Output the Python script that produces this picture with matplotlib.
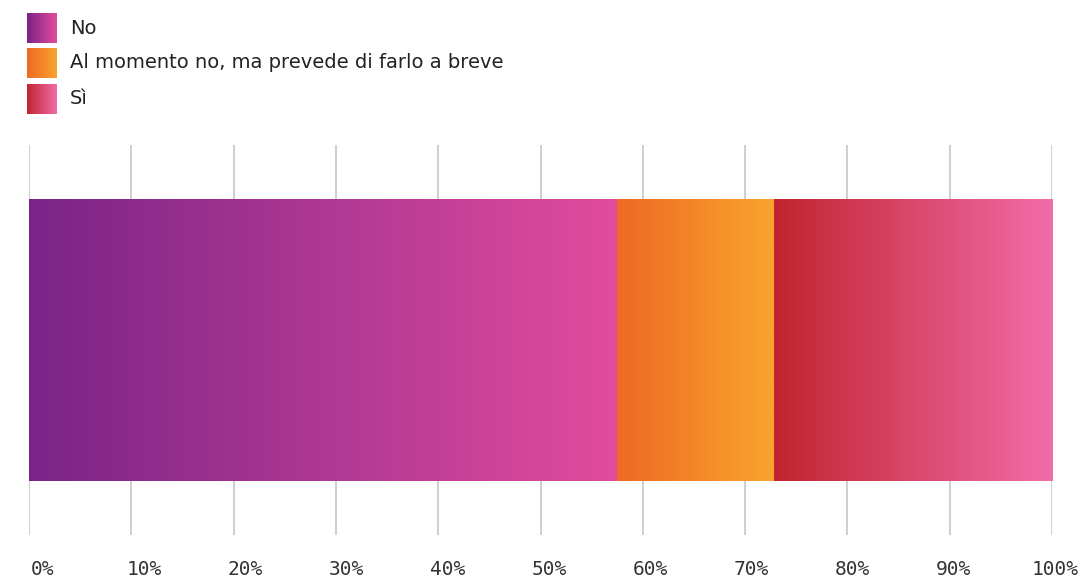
import matplotlib
matplotlib.use("Agg")
import matplotlib.pyplot as plt
import numpy as np
from matplotlib.colors import LinearSegmentedColormap
from matplotlib.transforms import ScaledTranslation

categories = ["No", "Al momento no, ma prevede di farlo a breve", "Sì"]
values = [57.5, 15.3, 27.2]
gradients = [("#7A2488", "#E24C9D"), ("#EE6A24", "#F8A42D"), ("#C1242F", "#F26CA9")]
tick_values = [0, 10, 20, 30, 40, 50, 60, 70, 80, 90, 100]
tick_labels = [f"{v}%" for v in tick_values]

W, H = 1090, 577
fig = plt.figure(figsize=(W / 100, H / 100), dpi=100)
ax = fig.add_axes([29 / W, (H - 535) / H, 1023 / W, 390 / H])
ax.set_xlim(0, 100)
ax.set_ylim(0, 1)

grad = np.linspace(0, 1, 256).reshape(1, -1)
left = 0
bar_h = 0.723
for val, (c0, c1) in zip(values, gradients):
    bars = ax.barh(0.5, val, left=left, height=bar_h, color="none", linewidth=0, zorder=2)
    patch = bars.patches[0]
    cmap = LinearSegmentedColormap.from_list("g", [c0, c1])
    im = ax.imshow(grad, cmap=cmap, aspect="auto",
                   extent=[left, left + val, 0.5 - bar_h / 2, 0.5 + bar_h / 2],
                   zorder=3, interpolation="bilinear")
    im.set_clip_path(patch)
    left += val

ax.set_xticks(tick_values)
ax.set_xticklabels(tick_labels)
ax.set_yticks([])
ax.grid(axis="x", color="#cfcfcf", linewidth=1.4, zorder=0)
ax.set_axisbelow(True)
for s in ax.spines.values():
    s.set_visible(False)
ax.tick_params(axis="x", length=0, pad=18, labelsize=14, labelcolor="#333333")
for v, lab in zip(tick_values, ax.get_xticklabels()):
    lab.set_fontfamily(["DejaVu Sans Mono"])
    lab.set_fontstretch("condensed")
    dx = (14 - 0.11 * v) / 100
    lab.set_transform(lab.get_transform() + ScaledTranslation(dx, 0, fig.dpi_scale_trans))

# legend
sq_tops = [13, 48, 84]
for cat, (c0, c1), top in zip(categories, gradients, sq_tops):
    lax = fig.add_axes([27 / W, (H - top - 30) / H, 30 / W, 30 / H])
    cmap = LinearSegmentedColormap.from_list("g", [c0, c1])
    lax.imshow(grad, cmap=cmap, aspect="auto", interpolation="bilinear")
    lax.axis("off")
    fig.text(70 / W, (H - top - 15) / H, cat, fontsize=14, color="#222222",
             va="center", ha="left", family=["DejaVu Sans"])

fig.savefig("out.png", dpi=100)
